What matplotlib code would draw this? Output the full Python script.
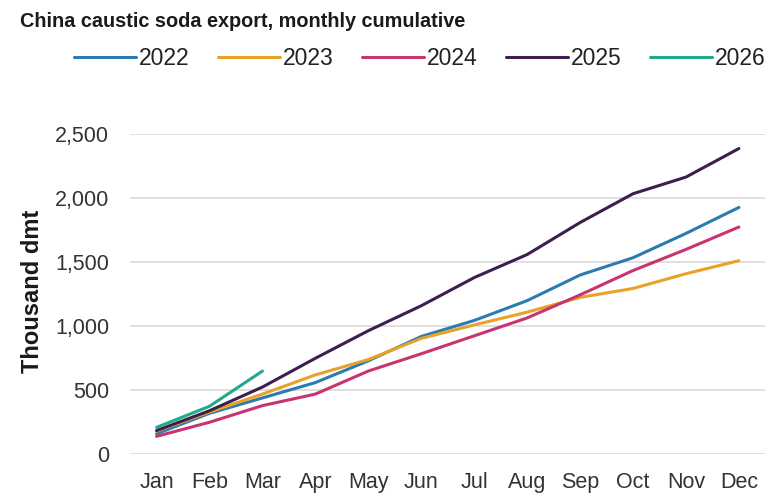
import matplotlib
matplotlib.use('Agg')
import matplotlib.pyplot as plt

months = ['Jan', 'Feb', 'Mar', 'Apr', 'May', 'Jun', 'Jul', 'Aug', 'Sep', 'Oct', 'Nov', 'Dec']

# cumulative exports, thousand dmt
y2022 = [160, 320, 440, 560, 730, 920, 1045, 1200, 1400, 1535, 1725, 1928]
y2023 = [180, 330, 470, 620, 740, 905, 1010, 1110, 1225, 1295, 1410, 1512]
y2024 = [140, 250, 380, 470, 650, 785, 925, 1065, 1245, 1435, 1600, 1775]
y2025 = [185, 340, 525, 750, 965, 1160, 1380, 1560, 1810, 2035, 2165, 2388]
y2026 = [210, 375, 650]

series = [
    ('2022', y2022, '#2b7bb0'),
    ('2023', y2023, '#e9a227'),
    ('2024', y2024, '#c93470'),
    ('2025', y2025, '#3d1f4e'),
    ('2026', y2026, '#22a88a'),
]

plt.rcParams['font.family'] = ['Liberation Sans', 'DejaVu Sans']

fig = plt.figure(figsize=(7.7, 4.97), dpi=100)
ax = fig.add_axes([0.169, 0.086, 0.825, 0.644])

for name, vals, col in series:
    ax.plot(range(len(vals)), vals, color=col, lw=2.2, label=name, solid_capstyle='round')

ax.set_xlim(-0.5, 11.5)
ax.set_ylim(0, 2500)
ax.set_yticks([0, 500, 1000, 1500, 2000, 2500])
ax.set_yticklabels(['0', '500', '1,000', '1,500', '2,000', '2,500'])
ax.set_xticks(range(12))
ax.set_xticklabels(months)
ax.tick_params(axis='both', length=0, labelsize=15.5, colors='#333333')
ax.tick_params(axis='y', pad=15)
ax.tick_params(axis='x', pad=13)
ax.grid(axis='y', color='#d9d9d9', lw=1.2)
ax.set_axisbelow(True)
for s in ax.spines.values():
    s.set_visible(False)

fig.text(0.042, 0.414, 'Thousand dmt', rotation=90, fontsize=17, fontweight='bold',
         ha='center', va='center', color='#1a1a1a')

fig.text(0.026, 0.957, 'China caustic soda export, monthly cumulative',
         fontsize=14.3, fontweight='bold', va='center', ha='left', color='#1a1a1a')

handles, labels = ax.get_legend_handles_labels()
fig.legend(handles, labels, loc='center', bbox_to_anchor=(0.545, 0.883), ncol=5,
           frameon=False, fontsize=16.5, handlelength=2.7, handletextpad=0.12,
           columnspacing=1.25, labelcolor='#222222')

fig.savefig('out.png', dpi=100)
